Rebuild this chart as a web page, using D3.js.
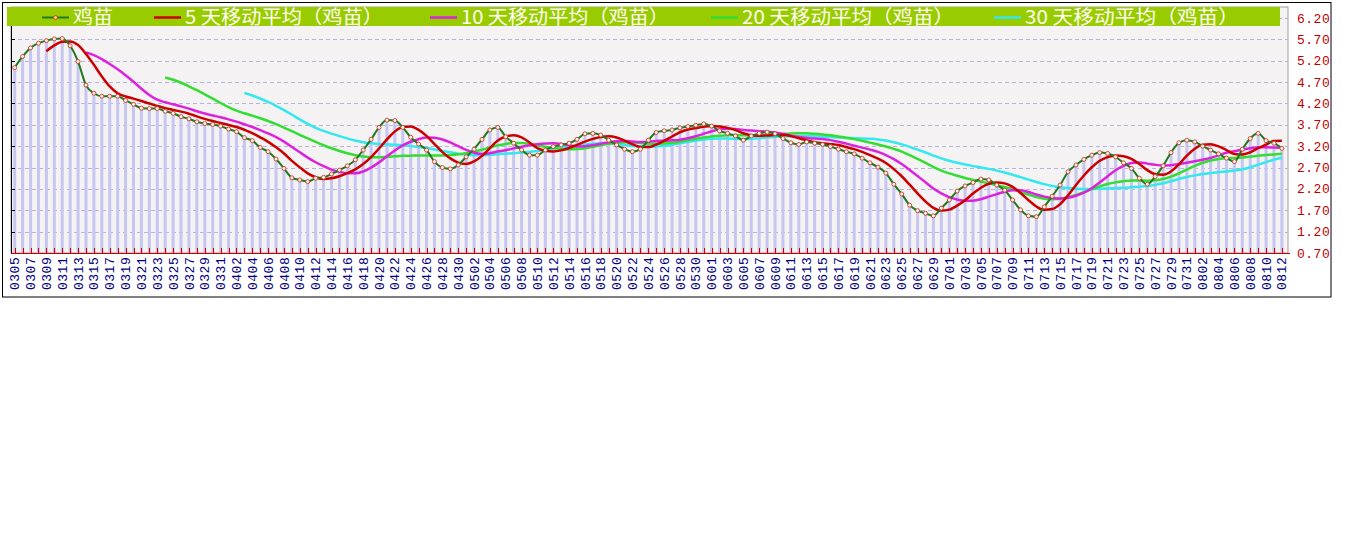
<!DOCTYPE html>
<html>
<head>
<meta charset="utf-8">
<script src="https://cdn.jsdelivr.net/npm/d3@7"></script>
<style>
  html, body { margin: 0; padding: 0; background: #ffffff; }
  svg { display: block; }
</style>
</head>
<body>
<svg id="chart" width="1345" height="541"></svg>
<script>
// ---------------- DATA ----------------
const dates = [
  "0305","0306","0307","0308","0309","0310","0311","0312","0313","0314","0315","0316","0317","0318","0319","0320",
  "0321","0322","0323","0324","0325","0326","0327","0328","0329","0330","0331",
  "0401","0402","0403","0404","0405","0406","0407","0408","0409","0410","0411","0412","0413","0414","0415","0416",
  "0417","0418","0419","0420","0421","0422","0423","0424","0425","0426","0427","0428","0429","0430",
  "0501","0502","0503","0504","0505","0506","0507","0508","0509","0510","0511","0512","0513","0514","0515","0516",
  "0517","0518","0519","0520","0521","0522","0523","0524","0525","0526","0527","0528","0529","0530","0531",
  "0601","0602","0603","0604","0605","0606","0607","0608","0609","0610","0611","0612","0613","0614","0615","0616",
  "0617","0618","0619","0620","0621","0622","0623","0624","0625","0626","0627","0628","0629","0630",
  "0701","0702","0703","0704","0705","0706","0707","0708","0709","0710","0711","0712","0713","0714","0715","0716",
  "0717","0718","0719","0720","0721","0722","0723","0724","0725","0726","0727","0728","0729","0730","0731",
  "0801","0802","0803","0804","0805","0806","0807","0808","0809","0810","0811","0812"
];
const prices = [
  5.04,5.30,5.50,5.61,5.67,5.71,5.72,5.55,5.18,4.63,4.44,4.37,4.37,4.37,4.27,4.18,
  4.09,4.08,4.08,4.02,3.97,3.89,3.84,3.77,3.73,3.71,3.67,
  3.60,3.54,3.40,3.33,3.17,3.07,2.90,2.68,2.46,2.41,2.37,2.45,2.47,2.55,2.64,2.74,
  2.88,3.11,3.36,3.64,3.81,3.80,3.64,3.41,3.25,3.11,2.84,2.70,2.67,2.76,
  2.95,3.13,3.36,3.58,3.64,3.42,3.27,3.11,2.99,2.99,3.11,3.19,3.23,3.27,3.36,3.49,
  3.50,3.46,3.34,3.23,3.13,3.07,3.13,3.34,3.52,3.56,3.58,3.63,3.66,3.69,3.72,
  3.67,3.56,3.50,3.44,3.34,3.44,3.50,3.53,3.49,3.38,3.28,3.24,3.30,3.27,3.24,3.19,
  3.13,3.07,3.02,2.92,2.81,2.71,2.57,2.31,2.08,1.82,1.69,1.63,1.57,1.75,
  1.94,2.15,2.27,2.35,2.43,2.41,2.29,2.17,1.94,1.71,1.57,1.55,1.78,2.03,2.29,2.60,
  2.76,2.89,2.99,3.05,3.03,2.95,2.81,2.68,2.45,2.31,2.49,2.74,3.05,3.28,3.34,
  3.30,3.20,3.11,3.02,2.92,2.84,3.13,3.38,3.50,3.33,3.27,3.15
];
const maPeriods = [5, 10, 20, 30];
const seriesNames = ["鸡苗", "5 天移动平均（鸡苗）", "10 天移动平均（鸡苗）", "20 天移动平均（鸡苗）", "30 天移动平均（鸡苗）"];
const yTickLabels = ["0.70","1.20","1.70","2.20","2.70","3.20","3.70","4.20","4.70","5.20","5.70","6.20"];

// ---------------- STYLE / LAYOUT ----------------
const seriesColors = ["#1f7a1f", "#cc0000", "#dd22dd", "#33dd33", "#33e8ee"];
const seriesWidths = [2, 2.5, 2.5, 2.5, 2.5];
const legendTextX = [73, 185, 461, 742, 1025];
const legendTextW = [40, 198, 208, 212, 214];

const plotLeft = 11, plotRight = 1288, plotTop = 7, plotBottom = 253;

const svg = d3.select("#chart");

// trailing moving average (the definition of the MA series in the legend)
function movingAverage(values, n) {
  return values.map((v, i) => {
    if (i < n - 1) return null;
    return d3.mean(values.slice(i - n + 1, i + 1));
  });
}
const maSeries = maPeriods.map(n => movingAverage(prices, n));

const x = d3.scalePoint().domain(dates).range([14.7, 1281.9]);
const y = d3.scaleLinear().domain([0.7, 6.2]).range([plotBottom, 18]);

// outer frame
svg.append("rect").attr("x", 2.5).attr("y", 2.5).attr("width", 1328.5).attr("height", 294.5)
  .attr("fill", "#ffffff").attr("stroke", "#000").attr("stroke-width", 1);

// plot background
svg.append("rect").attr("x", plotLeft).attr("y", plotTop)
  .attr("width", plotRight - plotLeft).attr("height", plotBottom - plotTop)
  .attr("fill", "#f4f2f2").attr("stroke", "#a0a0a0").attr("stroke-width", 1);

// gridlines
const tickVals = yTickLabels.map(Number);
svg.append("g").selectAll("line").data(tickVals.filter(v => v > 0.71)).join("line")
  .attr("x1", plotLeft).attr("x2", plotRight)
  .attr("y1", d => Math.round(y(d)) + 0.5).attr("y2", d => Math.round(y(d)) + 0.5)
  .attr("stroke", "#b4b4e0").attr("stroke-width", 1).attr("stroke-dasharray", "4,3");

// bars
svg.append("g").selectAll("rect").data(prices).join("rect")
  .attr("x", (d, i) => x(dates[i]) - 1.5)
  .attr("width", 3)
  .attr("y", d => y(d))
  .attr("height", d => plotBottom - y(d))
  .attr("fill", "#c6c6f0");

// MA lines
const lineGen = d3.line()
  .defined(d => d.v !== null)
  .x(d => x(d.k)).y(d => y(d.v))
  .curve(d3.curveMonotoneX);

for (let s = maSeries.length - 1; s >= 0; s--) {
  const pts = maSeries[s].map((v, i) => ({ k: dates[i], v }));
  svg.append("path").datum(pts)
    .attr("d", lineGen)
    .attr("fill", "none")
    .attr("stroke", seriesColors[s + 1])
    .attr("stroke-width", seriesWidths[s + 1])
    .attr("stroke-linejoin", "round");
}

// price line
const pricePts = prices.map((v, i) => ({ k: dates[i], v }));
svg.append("path").datum(pricePts)
  .attr("d", lineGen)
  .attr("fill", "none")
  .attr("stroke", seriesColors[0])
  .attr("stroke-width", seriesWidths[0]);

svg.append("g").selectAll("circle").data(pricePts).join("circle")
  .attr("cx", d => x(d.k)).attr("cy", d => y(d.v)).attr("r", 2)
  .attr("fill", "#fff6ee").attr("stroke", "#c83c28").attr("stroke-width", 0.9);

// legend bar
svg.append("rect").attr("x", 7).attr("y", 7).attr("width", 1273).attr("height", 19).attr("fill", "#99cc00");

const legend = svg.append("g");
seriesNames.forEach((name, i) => {
  const tx = legendTextX[i];
  legend.append("line")
    .attr("x1", tx - 31).attr("x2", tx - 4)
    .attr("y1", 17.5).attr("y2", 17.5)
    .attr("stroke", seriesColors[i]).attr("stroke-width", i === 0 ? 2 : 2.5);
  if (i === 0) {
    legend.append("circle").attr("cx", tx - 17.5).attr("cy", 17.5).attr("r", 2)
      .attr("fill", "#ffcc66").attr("stroke", "#c83c28").attr("stroke-width", 0.9);
  }
  legend.append("text")
    .attr("x", tx).attr("y", 24)
    .attr("textLength", legendTextW[i]).attr("lengthAdjust", "spacingAndGlyphs")
    .attr("font-family", "'Noto Sans CJK SC', sans-serif")
    .attr("font-size", 19)
    .attr("fill", "#fffff2")
    .text(name);
});

// left axis
svg.append("line").attr("x1", plotLeft + 0.5).attr("x2", plotLeft + 0.5)
  .attr("y1", 26).attr("y2", plotBottom).attr("stroke", "#000").attr("stroke-width", 1);
svg.append("g").selectAll("line").data(tickVals.filter(v => v > 0.71 && v < 6)).join("line")
  .attr("x1", plotLeft).attr("x2", plotLeft + 4)
  .attr("y1", d => Math.round(y(d)) + 0.5).attr("y2", d => Math.round(y(d)) + 0.5)
  .attr("stroke", "#000").attr("stroke-width", 1);

// bottom axis (red) with day ticks
svg.append("line").attr("x1", plotLeft).attr("x2", 1290)
  .attr("y1", plotBottom + 0.5).attr("y2", plotBottom + 0.5)
  .attr("stroke", "#cc0000").attr("stroke-width", 1);
svg.append("g").selectAll("line").data(dates).join("line")
  .attr("x1", d => Math.round(x(d)) + 0.5).attr("x2", d => Math.round(x(d)) + 0.5)
  .attr("y1", plotBottom).attr("y2", plotBottom - 5)
  .attr("stroke", "#cc0000").attr("stroke-width", 1);

// right axis labels
svg.append("g").selectAll("text").data(yTickLabels).join("text")
  .attr("x", 1297).attr("y", d => y(+d))
  .attr("dy", "0.35em")
  .attr("font-family", "'Liberation Mono', monospace")
  .attr("font-size", 13)
  .attr("letter-spacing", 0.5)
  .attr("fill", "#c00000")
  .text(d => d);

// x labels (every other day), vertical
svg.append("g").selectAll("text").data(dates.filter((d, i) => i % 2 === 0)).join("text")
  .attr("transform", d => `translate(${x(d)},290) rotate(-90)`)
  .attr("dy", "0.35em")
  .attr("font-family", "'Liberation Mono', monospace")
  .attr("font-size", 13)
  .attr("letter-spacing", 0.5)
  .attr("fill", "#000080")
  .text(d => d);
</script>
</body>
</html>
